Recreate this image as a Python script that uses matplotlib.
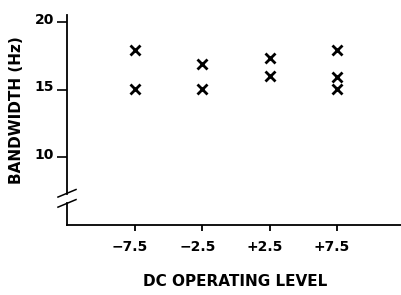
import numpy as np
import matplotlib.pyplot as plt
from matplotlib import transforms

# data
levels_a = [-7.5, -7.5]
bw_a = [17.95, 15.1]
levels_b = [-2.5, -2.5]
bw_b = [16.95, 15.1]
levels_c = [2.5, 2.5]
bw_c = [17.4, 16.0]
levels_d = [7.5, 7.5, 7.5]
bw_d = [17.95, 15.95, 15.05]

x_ticks = [-7.5, -2.5, 2.5, 7.5]
x_ticklabels = ['\u22127.5', '\u22122.5', '+2.5', '+7.5']
y_ticks = [10, 15, 20]
y_ticklabels = ['10', '15', '20']

plt.rcParams['font.family'] = ['DejaVu Sans']
plt.rcParams['font.weight'] = 'bold'

fig = plt.figure(figsize=(4.01, 2.95), dpi=100, facecolor='white')
W, H = 401, 295
ax = fig.add_axes([67 / W, (H - 225) / H, (W - 67) / W, (225 - 15) / H])

xs = levels_a + levels_b + levels_c + levels_d
ys = bw_a + bw_b + bw_c + bw_d
ax.plot(xs, ys, linestyle='none', marker='x', color='black', markersize=6.5, markeredgewidth=2)

ax.set_xlim(-12.55, 12.25)
ax.set_ylim(5.0, 20.55)

ax.set_xticks(x_ticks)
ax.set_xticklabels(x_ticklabels, fontsize=10, fontweight='bold')
ax.set_yticks(y_ticks)
ax.set_yticklabels(y_ticklabels, fontsize=10, fontweight='bold')
ax.tick_params(axis='x', direction='out', length=4, width=1.3, pad=7)
ax.tick_params(axis='y', direction='out', length=7, width=1.2, pad=2.5)

# labels in the original sit a bit off their ticks
for lab in ax.get_xticklabels():
    lab.set_transform(lab.get_transform() + transforms.ScaledTranslation(-5 / 100, 0, fig.dpi_scale_trans))
for lab in ax.get_yticklabels():
    lab.set_transform(lab.get_transform() + transforms.ScaledTranslation(0, 4 / 100, fig.dpi_scale_trans))

for s in ['top', 'right', 'left']:
    ax.spines[s].set_visible(False)
ax.spines['bottom'].set_linewidth(1.3)

# broken y axis with two slashes
tr = ax.transAxes
ax.plot([0, 0], [0.148, 1.0], color='black', lw=1.3, transform=tr, clip_on=False)
ax.plot([0, 0], [0.0, 0.105], color='black', lw=1.3, transform=tr, clip_on=False)
for yc in [0.151, 0.103]:
    ax.plot([-0.027, 0.027], [yc - 0.018, yc + 0.018], color='black', lw=1.1,
            transform=tr, clip_on=False)

fig.text(17 / W, 1 - 110 / H, 'BANDWIDTH (Hz)', rotation=90, ha='center', va='center',
         fontsize=11, fontweight='bold')
fig.text(235 / W, 1 - 282 / H, 'DC OPERATING LEVEL', ha='center', va='center',
         fontsize=11, fontweight='bold')

fig.savefig('out.png', dpi=100, facecolor='white')
